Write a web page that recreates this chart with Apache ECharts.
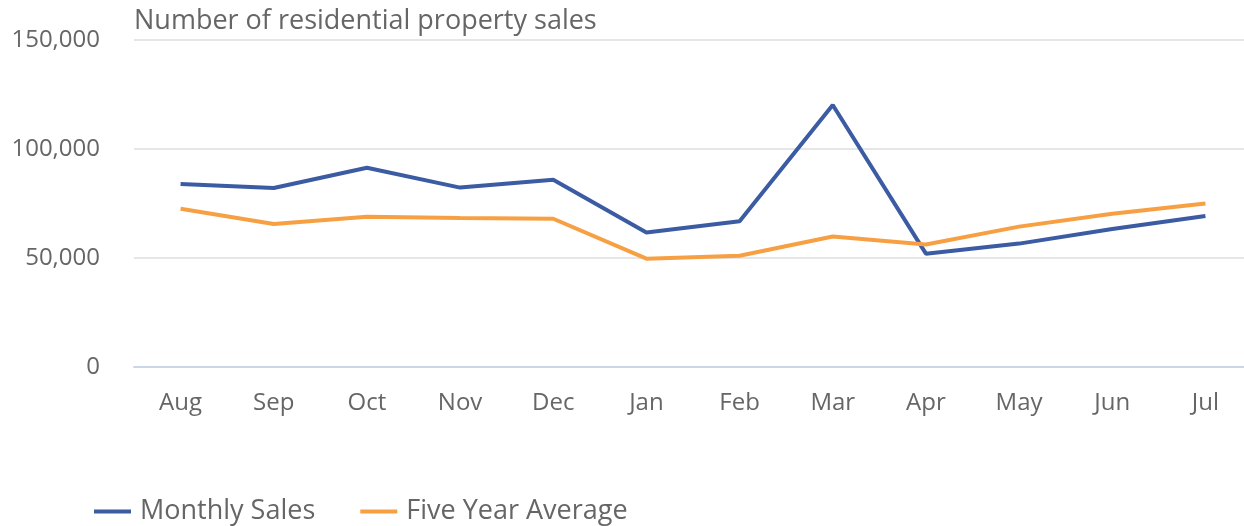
<!DOCTYPE html>
<html>
<head>
<meta charset="utf-8">
<script src="https://cdn.jsdelivr.net/npm/echarts@6/dist/echarts.min.js"></script>
<style>
  html, body { margin: 0; padding: 0; background: #fff; }
  #chart { width: 1244px; height: 526px; }
</style>
</head>
<body>
<div id="chart"></div>
<script>
// 数据
var months = ['Aug', 'Sep', 'Oct', 'Nov', 'Dec', 'Jan', 'Feb', 'Mar', 'Apr', 'May', 'Jun', 'Jul']
var monthlySales = [84000, 82100, 91400, 82300, 85900, 61700, 66900, 120200, 52000, 56600, 63300, 69300]
var fiveYearAverage = [72600, 65600, 68900, 68300, 68000, 49700, 51000, 59900, 56200, 64400, 70300, 75000]

var font = '"Open Sans", "Noto Sans", sans-serif'
var chart = echarts.init(document.getElementById('chart'))
chart.setOption({
  animation: false,
  title: {
    text: 'Number of residential property sales',
    left: 129,
    top: 3,
    textStyle: { fontFamily: font, fontSize: 27, fontWeight: 'normal', color: '#666666' }
  },
  legend: {
    bottom: -4,
    left: 89,
    itemWidth: 37,
    itemHeight: 4,
    itemGap: 45,
    icon: 'rect',
    textStyle: { fontFamily: font, fontSize: 27, color: '#666666', padding: [0, 0, 0, 4] },
    data: ['Monthly Sales', 'Five Year Average']
  },
  grid: { left: 134, right: -8, top: 40, bottom: 159, containLabel: false, outerBoundsMode: 'none' },
  xAxis: {
    type: 'category',
    data: months,
    boundaryGap: true,
    axisLine: { lineStyle: { color: '#ccd6eb', width: 2 } },
    axisTick: { alignWithLabel: true, length: 21, lineStyle: { color: '#ccd6eb', width: 2 } },
    axisLabel: { fontFamily: font, fontSize: 24, color: '#666666', margin: 24 }
  },
  yAxis: {
    type: 'value',
    min: 0,
    max: 150000,
    interval: 50000,
    axisLine: { show: false },
    axisTick: { show: false },
    splitLine: { lineStyle: { color: '#e6e6e6', width: 2 } },
    axisLabel: {
      fontFamily: font, fontSize: 24, color: '#666666', margin: 34,
      formatter: function (v) { return v.toLocaleString('en-US') }
    }
  },
  series: [
    {
      name: 'Monthly Sales',
      type: 'line',
      data: monthlySales,
      showSymbol: false,
      symbol: 'none',
      lineStyle: { color: '#3b5ba3', width: 4 },
      itemStyle: { color: '#3b5ba3' }
    },
    {
      name: 'Five Year Average',
      type: 'line',
      data: fiveYearAverage,
      showSymbol: false,
      symbol: 'none',
      lineStyle: { color: '#f7a043', width: 4 },
      itemStyle: { color: '#f7a043' }
    }
  ]
})
</script>
</body>
</html>
